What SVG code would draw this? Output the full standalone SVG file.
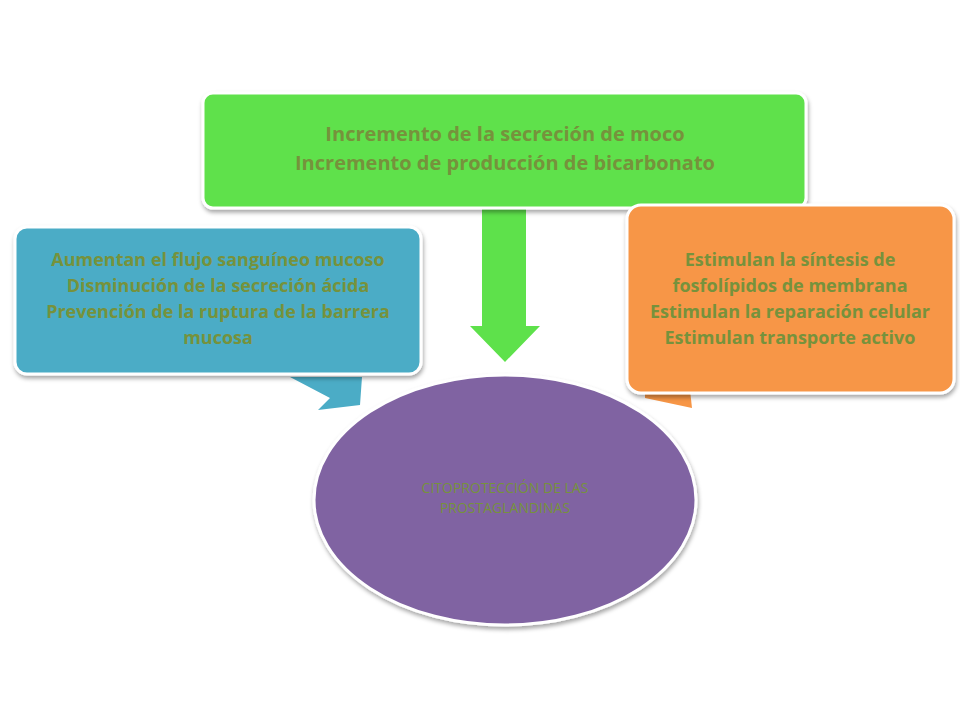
<svg xmlns="http://www.w3.org/2000/svg" width="960" height="720" viewBox="0 0 960 720">
<defs>
<style>
.t{font-family:"Open Sans","Liberation Sans",sans-serif;font-weight:bold;fill:#76923c;text-anchor:middle;font-size:18px}
.box{stroke:#fff;stroke-width:3}
</style>
<filter id="sh" x="-10%" y="-10%" width="120%" height="130%"><feDropShadow dx="1" dy="3" stdDeviation="2" flood-color="#000" flood-opacity="0.35"/></filter>
</defs>
<rect width="960" height="720" fill="#fff"/>
<g id="connectors">
<polygon points="290,377 362,377 360,405 318,410 330,398" fill="#4bacc6"/>
<polygon points="645,390 690,390 692,408 645,398" fill="#f79646"/>
<polygon points="482,209 526,209 526,326 540,326 505,362 470,326 482,326" fill="#5ee14b"/>
</g>
<g id="center">
<ellipse cx="505" cy="500" rx="191" ry="125" fill="#8064a2" class="box" filter="url(#sh)"/>
<text class="t" style="font-weight:normal;font-size:14px" x="505" y="493">CITOPROTECCIÓN  DE LAS</text>
<text class="t" style="font-weight:normal;font-size:14px" x="505" y="513">PROSTAGLANDINAS</text>
</g>
<g id="top">
<rect x="203" y="93" width="603" height="115" rx="10" fill="#5ee14b" class="box" filter="url(#sh)"/>
<text class="t" x="505" y="141" style="font-size:20px">Incremento de la secreción de moco</text>
<text class="t" x="505" y="170" style="font-size:20px">Incremento de producción de bicarbonato</text>
</g>
<g id="left">
<rect x="15" y="227" width="406" height="147" rx="12" fill="#4bacc6" class="box" filter="url(#sh)"/>
<text class="t" x="218" y="266">Aumentan el flujo sanguíneo mucoso</text>
<text class="t" x="218" y="292">Disminución de la secreción ácida</text>
<text class="t" x="218" y="318">Prevención de la ruptura de la barrera</text>
<text class="t" x="218" y="344">mucosa</text>
</g>
<g id="right">
<rect x="627" y="205" width="327" height="188" rx="14" fill="#f79646" class="box" filter="url(#sh)"/>
<text class="t" x="790" y="266">Estimulan la síntesis de</text>
<text class="t" x="790" y="292">fosfolípidos de membrana</text>
<text class="t" x="790" y="318">Estimulan la reparación celular</text>
<text class="t" x="790" y="344">Estimulan transporte activo</text>
</g>
</svg>
